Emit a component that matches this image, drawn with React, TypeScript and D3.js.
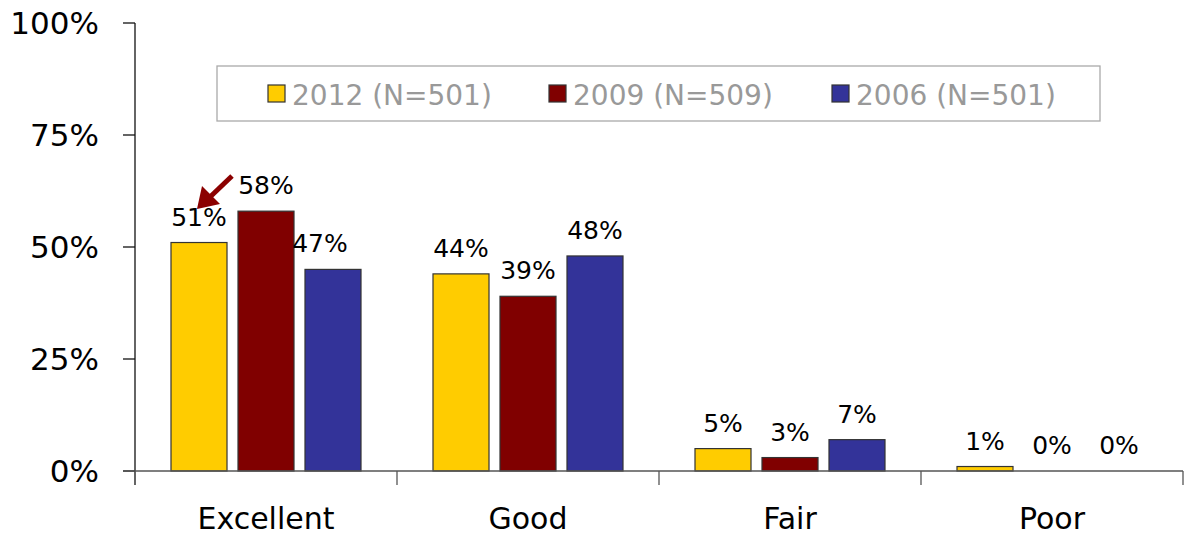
import React from 'react';
import * as d3 from 'd3';

const categories = ['Excellent', 'Good', 'Fair', 'Poor'];
const seriesNames = ['2012 (N=501)', '2009 (N=509)', '2006 (N=501)'];
const seriesColors = ['#FFCC00', '#800000', '#333399'];
// bar heights as drawn
const values2012 = [51, 44, 5, 1];
const values2009 = [58, 39, 3, 0];
const values2006 = [45, 48, 7, 0];
// printed labels
const labels2012 = ['51%', '44%', '5%', '1%'];
const labels2009 = ['58%', '39%', '3%', '0%'];
const labels2006 = ['47%', '48%', '7%', '0%'];
const yTicks = [0, 25, 50, 75, 100];

const seriesValues = [values2012, values2009, values2006];
const seriesLabels = [labels2012, labels2009, labels2006];

const FONT = "'DejaVu Sans', Verdana, sans-serif";

export default function App() {
  const width = 1187;
  const height = 537;
  const left = 135;
  const right = 1183;
  const top = 23;
  const bottom = 471;

  const x = d3.scaleBand().domain(categories).range([left, right]).paddingInner(0).paddingOuter(0);
  const inner = d3.scaleBand<number>().domain([0, 1, 2]).range([36, x.bandwidth() - 36]).paddingInner(0.164);
  const y = d3.scaleLinear().domain([0, 100]).range([bottom, top]);

  const legendX = [268, 549, 832];

  return (
    <svg width={width} height={height} style={{ position: 'absolute', left: 0, top: 0 }} fontFamily={FONT}>
      <rect width={width} height={height} fill="#fff" />
      {/* y axis */}
      <line x1={left} x2={left} y1={top} y2={bottom + 14} stroke="#111" strokeWidth={1.3} />
      {yTicks.map(t => (
        <g key={t}>
          <line x1={left - 12} x2={left} y1={y(t)} y2={y(t)} stroke="#111" strokeWidth={1.3} />
          <text x={99} y={y(t) + 11} textAnchor="end" fontSize={31} fill="#000">{t}%</text>
        </g>
      ))}
      {/* bars */}
      {categories.map((c, ci) => (
        <g key={c} transform={`translate(${x(c)},0)`}>
          {seriesValues.map((vals, si) => {
            const v = vals[ci];
            const bx = inner(si)!;
            const bw = inner.bandwidth();
            return (
              <g key={si}>
                {v > 0 && (
                  <rect x={bx} y={y(v)} width={bw} height={bottom - y(v)} fill={seriesColors[si]} stroke="#333" strokeWidth={1.2} />
                )}
                <text x={bx + bw / 2 - (ci === 0 && si === 2 ? 13 : 0)} y={y(v) - 17} textAnchor="middle" fontSize={25} fill="#000">
                  {seriesLabels[si][ci]}
                </text>
              </g>
            );
          })}
          <text x={x.bandwidth() / 2} y={529} textAnchor="middle" fontSize={30} fill="#000">{c}</text>
        </g>
      ))}
      {/* x axis */}
      <line x1={left - 12} x2={right} y1={bottom} y2={bottom} stroke="#555" strokeWidth={1.3} />
      {categories.map(c => (
        <line key={c} x1={x(c)! + x.bandwidth()} x2={x(c)! + x.bandwidth()} y1={bottom} y2={bottom + 14} stroke="#555" strokeWidth={1.3} />
      ))}
      {/* legend */}
      <rect x={217} y={66} width={883} height={55} fill="#fff" stroke="#aaa" strokeWidth={1.3} />
      {seriesNames.map((n, i) => (
        <g key={n}>
          <rect x={legendX[i]} y={85} width={17} height={17} fill={seriesColors[i]} stroke="#333" strokeWidth={1.2} />
          <text x={legendX[i] + 24} y={105} fontSize={28} fill="#999">{n}</text>
        </g>
      ))}
      {/* arrow */}
      <line x1={232} y1={176} x2={210} y2={197} stroke="#8B0000" strokeWidth={5} />
      <polygon points="197,209 202,186 220,204" fill="#8B0000" />
    </svg>
  );
}
